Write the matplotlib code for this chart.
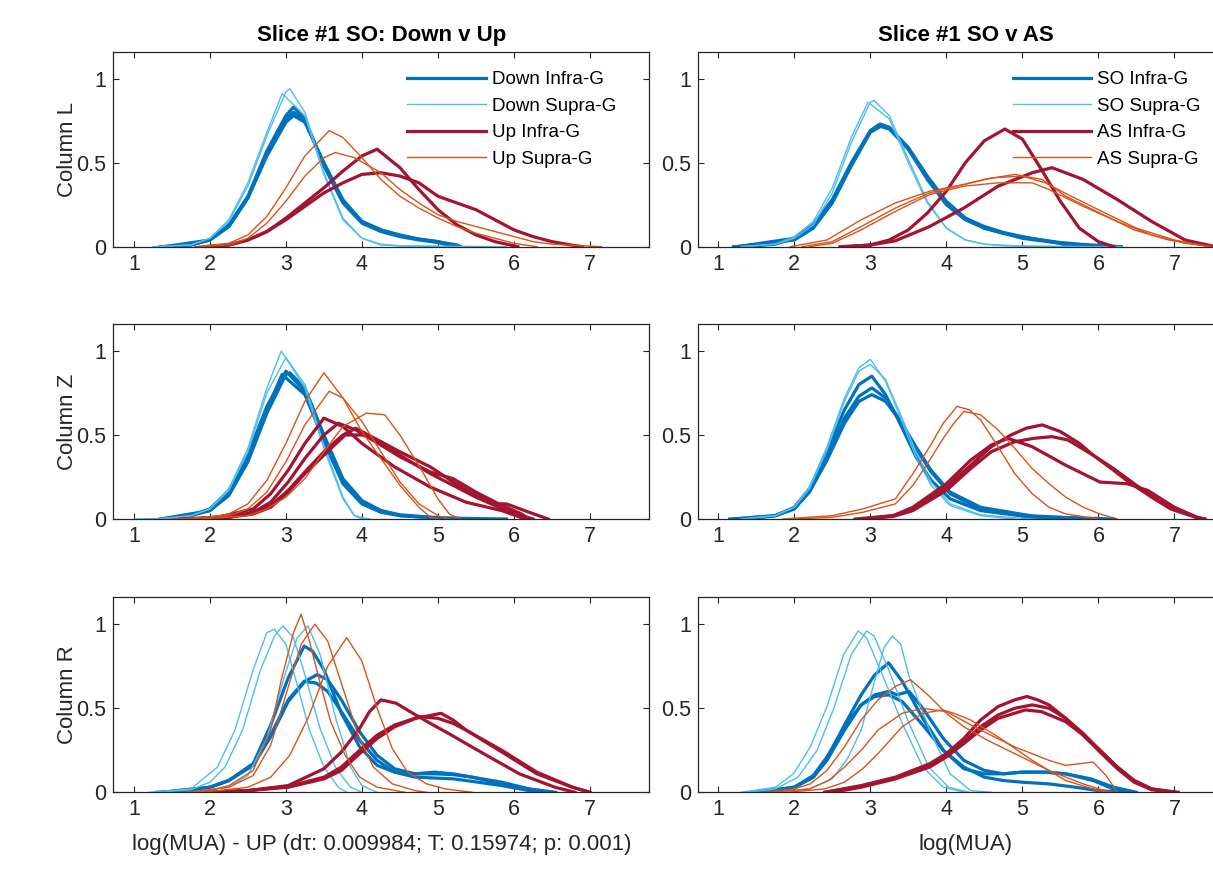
import matplotlib
matplotlib.use("Agg")
import matplotlib.pyplot as plt

plt.rcParams["font.family"] = ["Liberation Sans", "DejaVu Sans"]

# Density curves per channel, stored as (log(MUA), density) points.
# ---- Column L ----
L_DOWN_INFRA = [
    [(1.35, 0), (1.75, 0.01), (2.0, 0.04), (2.25, 0.13), (2.5, 0.30), (2.75, 0.57), (3.0, 0.78), (3.1, 0.83),
     (3.25, 0.76), (3.5, 0.48), (3.75, 0.26), (4.0, 0.14), (4.25, 0.09), (4.5, 0.06), (4.75, 0.04), (5.0, 0.025), (5.25, 0)],
    [(1.4, 0), (1.75, 0.01), (2.0, 0.04), (2.25, 0.12), (2.5, 0.29), (2.75, 0.55), (3.0, 0.76), (3.1, 0.80),
     (3.25, 0.75), (3.5, 0.49), (3.75, 0.27), (4.0, 0.15), (4.25, 0.10), (4.5, 0.07), (4.75, 0.045), (5.0, 0.03), (5.25, 0.01), (5.3, 0)],
    [(1.4, 0), (2.0, 0.04), (2.25, 0.12), (2.5, 0.29), (2.75, 0.54), (3.0, 0.74), (3.1, 0.78), (3.25, 0.74),
     (3.5, 0.50), (3.75, 0.28), (4.0, 0.15), (4.25, 0.10), (4.5, 0.065), (4.75, 0.045), (5.0, 0.03), (5.2, 0)],
]
L_DOWN_SUPRA = [
    [(1.25, 0), (1.75, 0.01), (2.0, 0.05), (2.25, 0.15), (2.5, 0.36), (2.75, 0.66), (3.0, 0.92), (3.05, 0.94),
     (3.25, 0.80), (3.5, 0.44), (3.75, 0.17), (4.0, 0.05), (4.25, 0.015), (4.5, 0.005), (5.0, 0)],
    [(1.3, 0), (1.75, 0.01), (2.0, 0.05), (2.25, 0.16), (2.5, 0.38), (2.75, 0.68), (2.95, 0.91), (3.25, 0.78),
     (3.5, 0.43), (3.75, 0.16), (4.0, 0.05), (4.25, 0.01), (4.5, 0.005), (5.9, 0)],
]
L_UP_INFRA = [
    [(1.95, 0), (2.25, 0.01), (2.5, 0.04), (2.75, 0.09), (3.0, 0.17), (3.25, 0.26), (3.5, 0.35), (3.75, 0.45),
     (4.0, 0.54), (4.2, 0.58), (4.5, 0.47), (4.75, 0.34), (5.0, 0.22), (5.25, 0.13), (5.5, 0.07), (5.75, 0.03), (6.05, 0)],
    [(2.0, 0), (2.25, 0.01), (2.5, 0.04), (2.75, 0.09), (3.0, 0.16), (3.25, 0.24), (3.5, 0.32), (3.75, 0.38),
     (4.0, 0.43), (4.25, 0.44), (4.5, 0.42), (4.75, 0.38), (5.0, 0.30), (5.25, 0.26), (5.5, 0.22), (5.75, 0.16),
     (6.0, 0.10), (6.25, 0.06), (6.5, 0.03), (6.75, 0.01), (6.9, 0)],
]
L_UP_SUPRA = [
    [(1.8, 0), (2.25, 0.02), (2.5, 0.07), (2.75, 0.18), (3.0, 0.35), (3.25, 0.54), (3.57, 0.69), (3.75, 0.65),
     (4.0, 0.53), (4.25, 0.40), (4.5, 0.30), (4.75, 0.23), (5.0, 0.17), (5.25, 0.12), (5.5, 0.08), (5.75, 0.05), (6.0, 0.02), (6.3, 0)],
    [(1.85, 0), (2.25, 0.01), (2.5, 0.05), (2.75, 0.14), (3.0, 0.27), (3.25, 0.42), (3.5, 0.53), (3.65, 0.56),
     (3.9, 0.53), (4.25, 0.44), (4.5, 0.34), (4.75, 0.26), (5.0, 0.19), (5.25, 0.15), (5.5, 0.12), (5.75, 0.09),
     (6.0, 0.06), (6.25, 0.03), (6.5, 0.015), (7.15, 0)],
]
L_SO_INFRA = [
    [(1.2, 0), (1.5, 0.005), (1.75, 0.015), (2.0, 0.05), (2.25, 0.12), (2.5, 0.27), (2.75, 0.49), (3.0, 0.69),
     (3.13, 0.73), (3.25, 0.71), (3.5, 0.58), (3.75, 0.40), (4.0, 0.25), (4.25, 0.16), (4.5, 0.11), (4.75, 0.08),
     (5.0, 0.055), (5.25, 0.04), (5.5, 0.025), (5.75, 0.015), (6.0, 0.008), (6.3, 0)],
    [(1.25, 0), (2.0, 0.05), (2.25, 0.13), (2.5, 0.28), (2.75, 0.50), (3.0, 0.69), (3.1, 0.72), (3.25, 0.70),
     (3.5, 0.58), (3.75, 0.41), (4.0, 0.26), (4.25, 0.17), (4.5, 0.12), (4.75, 0.085), (5.0, 0.06), (5.25, 0.04),
     (5.5, 0.02), (5.75, 0.01), (6.1, 0)],
    [(1.25, 0), (2.0, 0.04), (2.25, 0.11), (2.5, 0.26), (2.75, 0.48), (3.0, 0.68), (3.15, 0.72), (3.25, 0.71),
     (3.5, 0.59), (3.75, 0.42), (4.0, 0.27), (4.25, 0.17), (4.5, 0.11), (4.75, 0.08), (5.0, 0.05), (5.25, 0.035),
     (5.5, 0.02), (5.6, 0)],
]
L_SO_SUPRA = [
    [(1.3, 0), (1.75, 0.015), (2.0, 0.05), (2.25, 0.13), (2.5, 0.32), (2.75, 0.62), (3.0, 0.86), (3.05, 0.87),
     (3.25, 0.78), (3.5, 0.52), (3.75, 0.27), (4.0, 0.11), (4.25, 0.04), (4.5, 0.015), (4.75, 0.005), (5.5, 0)],
    [(1.3, 0), (1.75, 0.015), (2.0, 0.06), (2.25, 0.15), (2.5, 0.35), (2.75, 0.65), (2.97, 0.86), (3.25, 0.76),
     (3.5, 0.50), (3.75, 0.26), (4.0, 0.11), (4.25, 0.04), (4.5, 0.015), (5.0, 0.003), (6.3, 0)],
]
L_AS_INFRA = [
    [(2.6, 0), (3.0, 0.01), (3.25, 0.04), (3.5, 0.10), (3.75, 0.20), (4.0, 0.33), (4.25, 0.50), (4.5, 0.63),
     (4.77, 0.70), (5.0, 0.64), (5.25, 0.46), (5.5, 0.27), (5.75, 0.11), (6.0, 0.03), (6.2, 0)],
    [(2.7, 0), (3.0, 0.01), (3.33, 0.035), (3.78, 0.12), (4.23, 0.23), (4.68, 0.36), (5.13, 0.44), (5.39, 0.47),
     (5.8, 0.40), (6.25, 0.28), (6.7, 0.15), (7.14, 0.04), (7.5, 0.004), (7.6, 0)],
]
L_AS_SUPRA = [
    [(1.95, 0), (2.43, 0.04), (2.88, 0.16), (3.33, 0.26), (3.78, 0.33), (4.23, 0.37), (4.5, 0.40), (4.9, 0.43),
     (5.26, 0.40), (5.57, 0.30), (6.02, 0.20), (6.47, 0.10), (6.92, 0.04), (7.37, 0.008), (7.5, 0)],
    [(2.2, 0), (2.5, 0.02), (2.88, 0.10), (3.33, 0.21), (3.78, 0.31), (4.23, 0.36), (4.68, 0.38), (5.13, 0.38),
     (5.35, 0.34), (5.8, 0.24), (6.25, 0.15), (6.7, 0.07), (7.14, 0.02), (7.5, 0)],
    [(2.1, 0), (2.5, 0.03), (2.88, 0.12), (3.33, 0.23), (3.78, 0.32), (4.23, 0.37), (4.6, 0.41), (5.0, 0.42),
     (5.3, 0.38), (5.6, 0.31), (6.0, 0.22), (6.5, 0.11), (7.0, 0.04), (7.45, 0)],
]

# ---- Column Z ----
Z_DOWN_INFRA = [
    [(1.35, 0), (1.75, 0.02), (2.0, 0.06), (2.25, 0.17), (2.5, 0.38), (2.75, 0.67), (3.0, 0.88), (3.25, 0.76),
     (3.5, 0.46), (3.75, 0.21), (4.0, 0.09), (4.25, 0.04), (4.5, 0.02), (5.0, 0.006), (5.9, 0)],
    [(1.4, 0), (1.75, 0.02), (2.0, 0.05), (2.25, 0.14), (2.5, 0.34), (2.75, 0.63), (3.0, 0.86), (3.05, 0.87),
     (3.25, 0.78), (3.5, 0.50), (3.75, 0.24), (4.0, 0.11), (4.25, 0.05), (4.5, 0.025), (5.0, 0.008), (5.5, 0)],
    [(1.35, 0), (2.0, 0.05), (2.25, 0.15), (2.5, 0.36), (2.75, 0.65), (2.95, 0.86), (3.25, 0.74), (3.5, 0.47),
     (3.75, 0.23), (4.0, 0.10), (4.25, 0.05), (4.5, 0.02), (5.2, 0)],
]
Z_DOWN_SUPRA = [
    [(1.0, 0), (1.5, 0.005), (1.75, 0.02), (2.0, 0.06), (2.25, 0.18), (2.5, 0.42), (2.75, 0.78), (2.94, 1.0),
     (3.25, 0.78), (3.5, 0.42), (3.75, 0.12), (3.9, 0.02), (4.0, 0)],
    [(1.3, 0), (1.75, 0.02), (2.0, 0.06), (2.25, 0.17), (2.5, 0.40), (2.75, 0.75), (3.0, 0.96), (3.25, 0.80),
     (3.5, 0.44), (3.75, 0.13), (3.9, 0.02), (4.1, 0)],
]
Z_UP_INFRA = [
    [(1.6, 0), (2.1, 0.01), (2.57, 0.06), (2.8, 0.15), (3.03, 0.29), (3.25, 0.45), (3.5, 0.60), (3.75, 0.55),
     (4.0, 0.45), (4.43, 0.31), (4.9, 0.19), (5.37, 0.10), (5.84, 0.05), (6.15, 0)],
    [(1.7, 0), (2.25, 0.01), (2.57, 0.04), (2.8, 0.10), (3.03, 0.22), (3.25, 0.36), (3.5, 0.50), (3.69, 0.57),
     (3.92, 0.53), (4.25, 0.44), (4.5, 0.37), (4.9, 0.28), (5.2, 0.24), (5.5, 0.16), (5.8, 0.09), (6.1, 0.03), (6.2, 0)],
    [(1.75, 0), (2.25, 0.01), (2.57, 0.03), (2.8, 0.07), (3.03, 0.16), (3.25, 0.27), (3.5, 0.38), (3.78, 0.50),
     (4.0, 0.50), (4.25, 0.46), (4.5, 0.40), (4.9, 0.31), (5.2, 0.22), (5.5, 0.14), (5.74, 0.09), (5.9, 0.09),
     (6.2, 0.04), (6.45, 0)],
    [(1.8, 0), (2.5, 0.03), (2.8, 0.08), (3.03, 0.17), (3.25, 0.28), (3.5, 0.40), (3.75, 0.50), (3.92, 0.54),
     (4.25, 0.46), (4.5, 0.38), (4.9, 0.27), (5.2, 0.20), (5.5, 0.13), (5.8, 0.07), (6.1, 0.02), (6.25, 0)],
]
Z_UP_SUPRA = [
    [(1.5, 0), (2.0, 0.01), (2.25, 0.03), (2.5, 0.09), (2.75, 0.23), (3.0, 0.45), (3.25, 0.70), (3.5, 0.87),
     (3.75, 0.72), (4.0, 0.52), (4.25, 0.36), (4.5, 0.20), (4.75, 0.07), (4.9, 0.01), (5.0, 0)],
    [(1.6, 0), (2.25, 0.02), (2.5, 0.06), (2.75, 0.16), (3.0, 0.34), (3.25, 0.56), (3.57, 0.76), (3.75, 0.72),
     (4.0, 0.58), (4.25, 0.40), (4.5, 0.22), (4.75, 0.09), (5.0, 0.02), (5.15, 0)],
    [(1.9, 0), (2.5, 0.02), (2.75, 0.06), (3.0, 0.13), (3.25, 0.24), (3.5, 0.40), (3.75, 0.55), (4.06, 0.63),
     (4.3, 0.62), (4.5, 0.50), (4.76, 0.31), (5.0, 0.12), (5.15, 0.03), (5.3, 0)],
]
Z_SO_INFRA = [
    [(1.15, 0), (1.5, 0.005), (1.75, 0.02), (2.0, 0.07), (2.2, 0.18), (2.43, 0.40), (2.66, 0.65), (2.85, 0.80),
     (3.02, 0.85), (3.2, 0.74), (3.4, 0.56), (3.6, 0.37), (3.8, 0.23), (4.05, 0.12), (4.45, 0.05), (5.1, 0.012), (6.0, 0)],
    [(1.2, 0), (1.75, 0.02), (2.0, 0.06), (2.2, 0.17), (2.43, 0.37), (2.66, 0.60), (2.85, 0.73), (3.02, 0.78),
     (3.2, 0.72), (3.4, 0.58), (3.6, 0.42), (3.8, 0.28), (4.05, 0.15), (4.45, 0.06), (5.1, 0.015), (6.2, 0)],
    [(1.2, 0), (1.75, 0.02), (2.0, 0.06), (2.2, 0.16), (2.43, 0.35), (2.66, 0.57), (2.85, 0.70), (3.02, 0.74),
     (3.2, 0.70), (3.4, 0.58), (3.6, 0.43), (3.8, 0.29), (4.05, 0.16), (4.45, 0.07), (5.1, 0.02), (5.9, 0)],
]
Z_SO_SUPRA = [
    [(1.3, 0), (1.75, 0.02), (2.0, 0.07), (2.2, 0.19), (2.43, 0.43), (2.66, 0.72), (2.85, 0.90), (3.0, 0.95),
     (3.2, 0.82), (3.4, 0.60), (3.6, 0.37), (3.8, 0.20), (4.05, 0.08), (4.45, 0.02), (4.9, 0)],
    [(1.3, 0), (1.75, 0.02), (2.0, 0.07), (2.2, 0.18), (2.43, 0.41), (2.66, 0.70), (2.85, 0.88), (3.0, 0.92),
     (3.2, 0.83), (3.4, 0.62), (3.6, 0.40), (3.8, 0.22), (4.05, 0.09), (4.45, 0.025), (5.1, 0)],
]
Z_AS_INFRA = [
    [(2.9, 0), (3.3, 0.02), (3.56, 0.06), (4.0, 0.19), (4.32, 0.32), (4.59, 0.43), (4.85, 0.50), (5.05, 0.54),
     (5.26, 0.56), (5.5, 0.52), (5.75, 0.45), (5.93, 0.38), (6.2, 0.29), (6.4, 0.22), (6.7, 0.13), (6.95, 0.06),
     (7.28, 0.01), (7.4, 0)],
    [(2.8, 0), (3.3, 0.02), (3.56, 0.07), (4.0, 0.21), (4.32, 0.35), (4.59, 0.44), (4.81, 0.48), (5.13, 0.43),
     (5.57, 0.32), (6.02, 0.22), (6.38, 0.21), (6.65, 0.17), (7.0, 0.07), (7.35, 0)],
    [(2.9, 0), (3.3, 0.015), (3.56, 0.05), (4.0, 0.17), (4.32, 0.30), (4.59, 0.40), (4.9, 0.46), (5.15, 0.48),
     (5.39, 0.49), (5.6, 0.47), (5.93, 0.38), (6.2, 0.30), (6.5, 0.20), (6.75, 0.12), (7.0, 0.06), (7.3, 0.01), (7.4, 0)],
]
Z_AS_SUPRA = [
    [(1.85, 0), (2.5, 0.02), (2.9, 0.06), (3.33, 0.12), (3.56, 0.27), (3.78, 0.43), (3.96, 0.57), (4.14, 0.67),
     (4.3, 0.65), (4.45, 0.59), (4.68, 0.43), (4.9, 0.27), (5.13, 0.15), (5.35, 0.07), (5.57, 0.03), (6.0, 0)],
    [(2.0, 0), (2.5, 0.01), (2.9, 0.04), (3.33, 0.09), (3.56, 0.20), (3.78, 0.35), (3.96, 0.48), (4.1, 0.57),
     (4.23, 0.64), (4.45, 0.62), (4.68, 0.53), (4.9, 0.42), (5.13, 0.30), (5.35, 0.21), (5.57, 0.13), (5.8, 0.07),
     (6.02, 0.03), (6.25, 0)],
]

# ---- Column R ----
R_DOWN_INFRA = [
    [(1.3, 0), (1.75, 0.01), (2.0, 0.03), (2.25, 0.07), (2.57, 0.17), (2.8, 0.40), (3.03, 0.68), (3.24, 0.87),
     (3.35, 0.84), (3.5, 0.73), (3.73, 0.47), (3.97, 0.27), (4.2, 0.16), (4.43, 0.12), (4.7, 0.11), (4.95, 0.12),
     (5.2, 0.11), (5.45, 0.09), (5.84, 0.05), (6.3, 0.01), (6.5, 0)],
    [(1.35, 0), (2.0, 0.03), (2.25, 0.07), (2.57, 0.16), (2.8, 0.33), (3.03, 0.54), (3.25, 0.66), (3.41, 0.70),
     (3.55, 0.67), (3.73, 0.55), (3.97, 0.36), (4.2, 0.22), (4.43, 0.14), (4.7, 0.11), (4.95, 0.11), (5.2, 0.105),
     (5.45, 0.09), (5.84, 0.06), (6.2, 0.02), (6.55, 0)],
    [(1.4, 0), (2.0, 0.03), (2.25, 0.07), (2.57, 0.17), (2.8, 0.34), (3.03, 0.55), (3.24, 0.66), (3.4, 0.65),
     (3.55, 0.60), (3.73, 0.48), (3.97, 0.31), (4.2, 0.19), (4.43, 0.12), (4.7, 0.09), (4.95, 0.085), (5.2, 0.08),
     (5.45, 0.065), (5.84, 0.04), (6.2, 0.01), (6.4, 0)],
]
R_DOWN_SUPRA = [
    [(1.2, 0), (1.75, 0.02), (2.1, 0.15), (2.33, 0.37), (2.57, 0.73), (2.75, 0.95), (2.85, 0.97), (3.0, 0.88),
     (3.13, 0.67), (3.31, 0.37), (3.5, 0.15), (3.69, 0.03), (3.8, 0)],
    [(1.3, 0), (1.75, 0.015), (2.0, 0.06), (2.2, 0.15), (2.43, 0.37), (2.66, 0.72), (2.85, 0.93), (2.96, 0.99),
     (3.1, 0.92), (3.25, 0.70), (3.45, 0.38), (3.65, 0.15), (3.85, 0.03), (4.0, 0)],
    [(1.7, 0), (2.25, 0.03), (2.5, 0.10), (2.75, 0.32), (3.0, 0.72), (3.15, 0.92), (3.29, 0.99), (3.45, 0.82),
     (3.65, 0.45), (3.85, 0.15), (4.0, 0.04), (4.2, 0)],
]
R_UP_INFRA = [
    [(1.95, 0), (2.5, 0.01), (3.03, 0.04), (3.5, 0.14), (3.73, 0.24), (3.97, 0.38), (4.1, 0.48), (4.25, 0.55),
     (4.45, 0.53), (4.67, 0.47), (4.9, 0.41), (5.14, 0.35), (5.6, 0.23), (6.07, 0.11), (6.54, 0.03), (6.8, 0)],
    [(2.0, 0), (2.5, 0.01), (3.03, 0.03), (3.5, 0.08), (3.73, 0.13), (3.97, 0.23), (4.2, 0.32), (4.43, 0.39),
     (4.71, 0.44), (5.04, 0.47), (5.2, 0.43), (5.37, 0.37), (5.84, 0.24), (6.3, 0.11), (6.77, 0.03), (7.0, 0)],
    [(2.0, 0), (2.5, 0.01), (3.03, 0.035), (3.5, 0.09), (3.73, 0.15), (3.97, 0.25), (4.2, 0.34), (4.43, 0.40),
     (4.76, 0.45), (5.0, 0.44), (5.2, 0.41), (5.37, 0.37), (5.84, 0.25), (6.3, 0.12), (6.77, 0.03), (7.0, 0)],
]
R_UP_SUPRA = [
    [(1.65, 0), (2.0, 0.01), (2.25, 0.04), (2.57, 0.13), (2.8, 0.37), (2.94, 0.67), (3.1, 0.95), (3.2, 1.06),
     (3.31, 0.90), (3.45, 0.65), (3.59, 0.42), (3.78, 0.22), (3.97, 0.09), (4.2, 0.03), (4.57, 0)],
    [(1.7, 0), (2.25, 0.03), (2.57, 0.10), (2.8, 0.28), (3.0, 0.58), (3.2, 0.88), (3.38, 1.0), (3.55, 0.90),
     (3.75, 0.62), (3.95, 0.34), (4.15, 0.15), (4.4, 0.05), (4.7, 0.01), (4.85, 0)],
    [(1.9, 0), (2.5, 0.03), (2.8, 0.09), (3.05, 0.22), (3.3, 0.45), (3.55, 0.75), (3.8, 0.92), (4.0, 0.78),
     (4.2, 0.50), (4.4, 0.26), (4.6, 0.12), (4.85, 0.05), (5.1, 0.02), (5.45, 0)],
]
R_SO_INFRA = [
    [(1.45, 0), (1.75, 0.01), (2.0, 0.03), (2.25, 0.09), (2.43, 0.20), (2.66, 0.40), (2.88, 0.58), (3.06, 0.70),
     (3.24, 0.77), (3.42, 0.66), (3.69, 0.44), (3.96, 0.25), (4.23, 0.14), (4.5, 0.11), (4.75, 0.11), (5.0, 0.12),
     (5.3, 0.12), (5.57, 0.11), (5.93, 0.07), (6.25, 0.01), (6.4, 0)],
    [(1.5, 0), (2.0, 0.03), (2.25, 0.09), (2.43, 0.19), (2.66, 0.37), (2.88, 0.52), (3.06, 0.58), (3.24, 0.60),
     (3.35, 0.58), (3.51, 0.60), (3.69, 0.50), (3.96, 0.32), (4.23, 0.19), (4.5, 0.13), (4.75, 0.11), (5.0, 0.12),
     (5.3, 0.12), (5.57, 0.11), (5.9, 0.08), (6.2, 0.03), (6.5, 0)],
    [(1.5, 0), (2.0, 0.03), (2.25, 0.10), (2.43, 0.21), (2.66, 0.39), (2.88, 0.52), (3.06, 0.57), (3.24, 0.58),
     (3.42, 0.54), (3.69, 0.40), (3.96, 0.25), (4.23, 0.15), (4.5, 0.09), (4.75, 0.07), (5.0, 0.06), (5.35, 0.05),
     (5.7, 0.03), (6.0, 0.01), (6.3, 0)],
]
R_SO_SUPRA = [
    [(1.3, 0), (1.75, 0.03), (1.99, 0.11), (2.21, 0.27), (2.43, 0.51), (2.65, 0.82), (2.84, 0.96), (2.95, 0.92),
     (3.15, 0.71), (3.42, 0.41), (3.69, 0.15), (3.96, 0.03), (4.25, 0)],
    [(1.4, 0), (1.75, 0.02), (2.05, 0.09), (2.3, 0.25), (2.52, 0.50), (2.75, 0.82), (2.95, 0.96), (3.05, 0.93),
     (3.25, 0.72), (3.5, 0.42), (3.77, 0.15), (4.03, 0.03), (4.3, 0)],
    [(1.75, 0), (2.2, 0.02), (2.5, 0.08), (2.7, 0.20), (2.88, 0.37), (3.05, 0.65), (3.18, 0.86), (3.29, 0.93),
     (3.4, 0.88), (3.51, 0.69), (3.78, 0.37), (4.05, 0.11), (4.32, 0.01), (4.6, 0)],
]
R_AS_INFRA = [
    [(2.4, 0), (2.88, 0.04), (3.33, 0.09), (3.78, 0.17), (4.0, 0.23), (4.23, 0.32), (4.45, 0.43), (4.68, 0.51),
     (4.9, 0.55), (5.06, 0.57), (5.2, 0.55), (5.35, 0.52), (5.57, 0.44), (5.8, 0.34), (6.02, 0.24), (6.25, 0.14),
     (6.47, 0.06), (6.7, 0.015), (7.0, 0)],
    [(2.4, 0), (2.88, 0.035), (3.33, 0.085), (3.78, 0.16), (4.0, 0.22), (4.23, 0.30), (4.45, 0.39), (4.68, 0.46),
     (4.9, 0.50), (5.13, 0.52), (5.35, 0.50), (5.57, 0.44), (5.8, 0.35), (6.02, 0.25), (6.25, 0.15), (6.47, 0.07),
     (6.7, 0.02), (7.05, 0)],
    [(2.5, 0), (2.88, 0.03), (3.33, 0.08), (3.78, 0.15), (4.0, 0.21), (4.23, 0.29), (4.45, 0.37), (4.68, 0.44),
     (5.04, 0.49), (5.25, 0.48), (5.57, 0.42), (5.8, 0.34), (6.02, 0.25), (6.25, 0.15), (6.47, 0.07), (6.7, 0.02), (7.0, 0)],
]
R_AS_SUPRA = [
    [(1.6, 0), (2.0, 0.02), (2.21, 0.05), (2.43, 0.13), (2.66, 0.27), (2.88, 0.43), (3.1, 0.55), (3.33, 0.63),
     (3.53, 0.67), (3.78, 0.57), (4.0, 0.47), (4.23, 0.39), (4.54, 0.31), (4.9, 0.23), (5.35, 0.13), (5.8, 0.05), (6.15, 0)],
    [(1.7, 0), (2.2, 0.02), (2.45, 0.07), (2.66, 0.15), (2.9, 0.26), (3.1, 0.37), (3.42, 0.47), (3.69, 0.50),
     (4.0, 0.48), (4.45, 0.37), (4.9, 0.27), (5.35, 0.19), (5.57, 0.16), (5.93, 0.18), (6.1, 0.10), (6.25, 0)],
    [(1.9, 0), (2.4, 0.02), (2.66, 0.06), (2.9, 0.14), (3.1, 0.23), (3.42, 0.39), (3.69, 0.47), (3.95, 0.49),
     (4.1, 0.47), (4.32, 0.43), (4.68, 0.33), (5.13, 0.19), (5.57, 0.07), (6.0, 0.01), (6.2, 0)],
]

ROW_LABELS = ["Column L", "Column Z", "Column R"]
TITLES = ["Slice #1 SO: Down v Up", "Slice #1 SO v AS"]
LEGEND_LABELS = [
    ["Down Infra-G", "Down Supra-G", "Up Infra-G", "Up Supra-G"],
    ["SO Infra-G", "SO Supra-G", "AS Infra-G", "AS Supra-G"],
]
X_LABELS = ["log(MUA) - UP (d\u03c4: 0.009984; T: 0.15974; p: 0.001)", "log(MUA)"]

# panel grid: rows are columns L/Z/R, left is Down v Up, right is SO v AS
PANELS = [
    [[L_DOWN_INFRA, L_DOWN_SUPRA, L_UP_INFRA, L_UP_SUPRA], [L_SO_INFRA, L_SO_SUPRA, L_AS_INFRA, L_AS_SUPRA]],
    [[Z_DOWN_INFRA, Z_DOWN_SUPRA, Z_UP_INFRA, Z_UP_SUPRA], [Z_SO_INFRA, Z_SO_SUPRA, Z_AS_INFRA, Z_AS_SUPRA]],
    [[R_DOWN_INFRA, R_DOWN_SUPRA, R_UP_INFRA, R_UP_SUPRA], [R_SO_INFRA, R_SO_SUPRA, R_AS_INFRA, R_AS_SUPRA]],
]

# MATLAB default colours: thick for infragranular, thin for supragranular
STYLES = [("#0072BD", 2.3), ("#4DBEEE", 1.0), ("#A2142F", 2.3), ("#D95319", 1.0)]
AX_COLOR = "#262626"

fig = plt.figure(figsize=(12.13, 8.72), dpi=100)

col_x = [0.0934, 0.5752]
row_y = [0.7171, 0.4048, 0.0914]
ax_w, ax_h = 0.4419, 0.2236

for r in range(3):
    for c in range(2):
        ax = fig.add_axes([col_x[c], row_y[r], ax_w, ax_h])
        for g, curves in enumerate(PANELS[r][c]):
            color, lw = STYLES[g]
            for k, pts in enumerate(curves):
                xs = [p[0] for p in pts]
                ys = [p[1] for p in pts]
                ax.plot(xs, ys, color=color, lw=lw, solid_joinstyle="round",
                        label=LEGEND_LABELS[c][g] if k == 0 else None)

        ax.set_xlim(0.73, 7.78)
        ax.set_ylim(0, 1.16)
        ax.set_xticks([1, 2, 3, 4, 5, 6, 7])
        ax.set_yticks([0, 0.5, 1])
        ax.set_yticklabels(["0", "0.5", "1"])
        ax.tick_params(direction="in", top=True, right=True, length=4, width=0.8,
                       colors=AX_COLOR, labelsize=15.5, pad=5)
        for sp in ax.spines.values():
            sp.set_color(AX_COLOR)
            sp.set_linewidth(0.9)

        if c == 0:
            ax.set_ylabel(ROW_LABELS[r], fontsize=16, color=AX_COLOR, labelpad=-1)
        if r == 0:
            ax.set_title(TITLES[c], fontsize=16, fontweight="bold", color="black", pad=8)
            ax.legend(loc="upper right", bbox_to_anchor=(0.938, 0.9), frameon=False,
                      fontsize=13.5, handlelength=4.2, handletextpad=0.3,
                      labelspacing=0.5, borderpad=0, borderaxespad=0)
        if r == 2:
            ax.set_xlabel(X_LABELS[c], fontsize=16, color=AX_COLOR, labelpad=10)

fig.savefig("out.png", dpi=100)
